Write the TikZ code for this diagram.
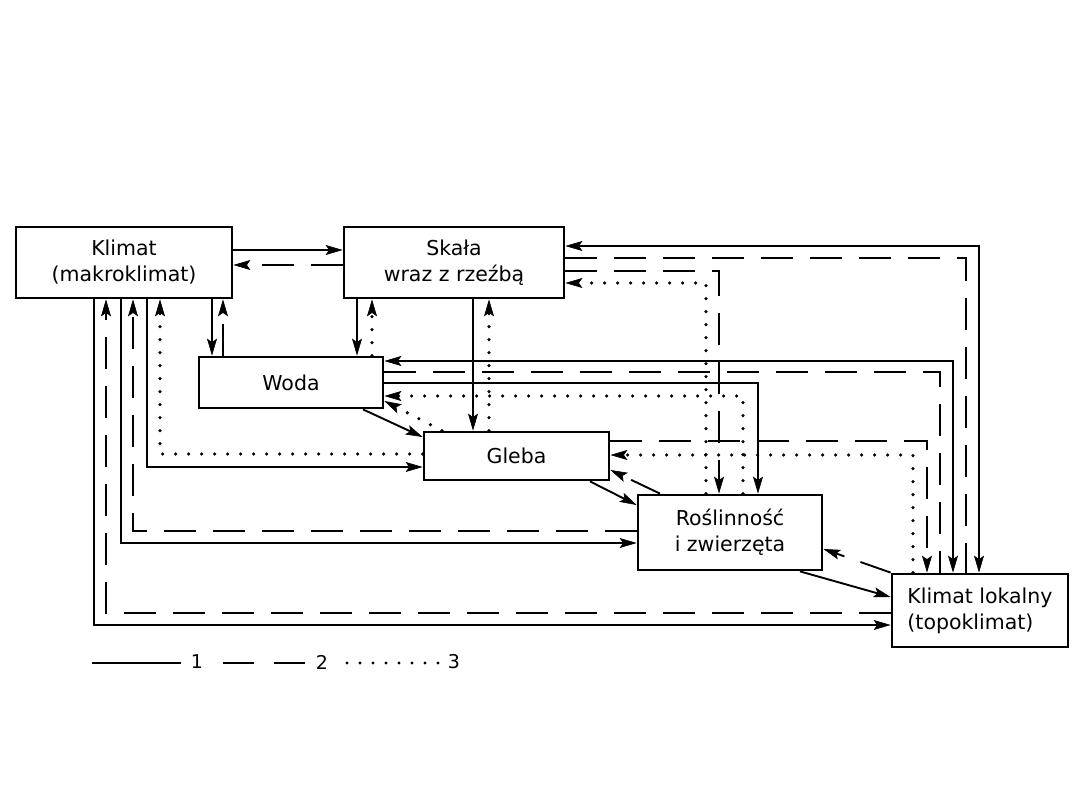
\documentclass[tikz,border=0pt]{standalone}
\usepackage{fontspec}
\setmainfont{DejaVu Sans}
\usetikzlibrary{arrows.meta}
\begin{document}
\begin{tikzpicture}[x=1pt,y=-1pt,
  >={Stealth[length=17pt,width=10pt,inset=3.5pt,line width=0.6pt]},
  box/.style={draw, line width=2.8pt, inner sep=0pt, align=center,
    font=\fontsize{20.5}{26}\selectfont},
  sl/.style={line width=1.9pt},
  dl/.style={line width=1.9pt, dash pattern=on 32pt off 17pt},
  ol/.style={line width=3.6pt, line cap=round, dash pattern=on 0pt off 13pt},
  lab/.style={inner sep=0pt, font=\fontsize{19}{20}\selectfont}
]
\useasboundingbox (0,0) rectangle (1080,810);

% boxes
\node[box, minimum width=216pt, minimum height=71pt] (K) at (124,262.5) {Klimat\\(makroklimat)};
\node[box, minimum width=220pt, minimum height=71pt] (S) at (454,262.5) {Skała\\wraz z rzeźbą};
\node[box, minimum width=184pt, minimum height=51pt] (W) at (291,382.5) {Woda};
\node[box, minimum width=185pt, minimum height=48pt] (G) at (516.5,456) {Gleba};
\node[box, minimum width=184pt, minimum height=75pt] (R) at (730,532.5) {Roślinność\\i zwierzęta};
\node[box, minimum width=176pt, minimum height=73pt, align=left] (L) at (980,610.5) {Klimat lokalny\\(topoklimat)};

% Klimat - Skała
\draw[sl,->] (K.east |- 0,250) -- (S.west |- 0,250);
\draw[dl,->] (S.west |- 0,265) -- (K.east |- 0,265);
% Klimat - Woda
\draw[sl,->] (K.south -| 212,0) -- (W.north -| 212,0);
\draw[dl,->] (W.north -| 223,0) -- (K.south -| 223,0);
% Skała - Woda
\draw[sl,->] (S.south -| 357,0) -- (W.north -| 357,0);
\draw[ol,->] (W.north -| 372,0) -- (S.south -| 372,0);
% Skała - Gleba
\draw[sl,->] (S.south -| 473,0) -- (G.north -| 473,0);
\draw[ol,->] (G.north -| 489,0) -- (S.south -| 489,0);
% Woda - Gleba
\draw[sl,->] (W.south -| 363,0) -- (G.west |- 0,437);
\draw[ol,->] (G.north -| 442,0) -- (W.east |- 0,401);
% Roślinność - Woda
\draw[ol,->] (R.north -| 743,0) |- (W.east |- 0,396);
\draw[sl,->] (W.east |- 0,383) -| (R.north -| 758,0);
% Woda - Klimat lokalny
\draw[sl,<->] (W.east |- 0,361) -| (L.north -| 953,0);
\draw[dl] (W.east |- 0,372) -| (L.north -| 940,0);
% Skała - Klimat lokalny
\draw[sl,<->] (S.east |- 0,246) -| (L.north -| 979,0);
\draw[dl] (S.east |- 0,258) -| (L.north -| 966,0);
% Skała - Roślinność
\draw[dl,->] (S.east |- 0,271) -| (R.north -| 719,0);
\draw[ol,->] (R.north -| 706,0) |- (S.east |- 0,283);
% Gleba - Klimat lokalny
\draw[dl,->] (G.east |- 0,441) -| (L.north -| 927,0);
\draw[ol,->] (L.north -| 913,0) |- (G.east |- 0,455);
% Gleba - Roślinność
\draw[sl,->] (G.south -| 590,0) -- (R.west |- 0,505);
\draw[dl,->] (R.north -| 660,0) -- (G.east |- 0,470);
% Roślinność - Klimat lokalny
\draw[sl,->] (R.south -| 800,0) -- (L.west |- 0,597);
\draw[dl,->] (L.north west) -- (R.east |- 0,549);
% Klimat - lower boxes (left loops)
\draw[sl,->] (K.south -| 94,0) |- (L.west |- 0,625);
\draw[dl,->] (L.west |- 0,613) -| (K.south -| 106,0);
\draw[sl,->] (K.south -| 121,0) |- (R.west |- 0,543);
\draw[dl,->] (R.west |- 0,531) -| (K.south -| 133,0);
\draw[sl,->] (K.south -| 147,0) |- (G.west |- 0,467);
\draw[ol,->] (G.west |- 0,454) -| (K.south -| 160,0);

% legend
\node[lab] (n1) at (197,662) {1};
\node[lab] (n2) at (322,662) {2};
\node[lab] (n3) at (454,662) {3};
\draw[line width=1.6pt] (92,663) -- (181,663);
\draw[line width=1.6pt, dash pattern=on 31pt off 20pt] (223,663) -- (309,663);
\draw[line width=3.2pt, line cap=round, dash pattern=on 0pt off 13pt] (347,663) -- (440,663);
\end{tikzpicture}
\end{document}
